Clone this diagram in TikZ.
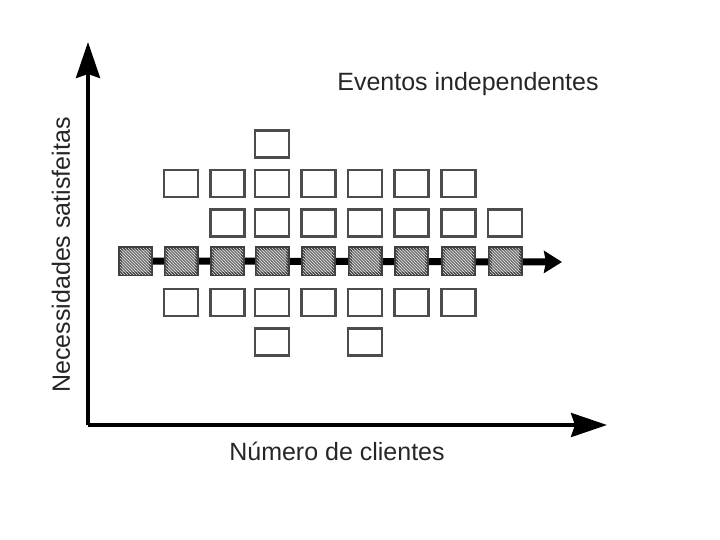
\documentclass[tikz,border=0pt]{standalone}
\usepackage{fontspec}
\setmainfont{Liberation Sans}
\usetikzlibrary{arrows.meta,patterns}
\begin{document}
\begin{tikzpicture}[x=1pt,y=-1pt,
  ebox/.style={draw=black!70,line width=2.6pt,fill=white,minimum width=34pt,minimum height=27pt,inner sep=0pt},
  hbox/.style={draw=black!75,line width=4pt,fill=black!55,postaction={pattern=north west lines,pattern color=white!90!black},minimum width=31pt,minimum height=26pt,inner sep=0pt},
  axis/.style={line width=3.6pt,-{Stealth[length=36pt,width=24pt,inset=4pt]}},
  lbl/.style={font=\fontsize{25}{28}\selectfont,text=black!85,inner sep=0pt}]
\useasboundingbox (0,0) rectangle (720,540);
% axes
\coordinate (O) at (88,425);
\coordinate (ytip) at (88,42);
\coordinate (xtip) at (607,425);
\draw[axis] (O) -- (ytip);
\draw[axis] (O) -- (xtip);
\node[lbl,rotate=90] (ylab) at (61,255) {Necessidades satisfeitas};
\node[lbl] (xlab) at (337,451) {Número de clientes};
\node[lbl] (title) at (468,84) {Eventos independentes};
% middle arrow
\coordinate (mtip) at (562,262);
\node[hbox] (h1) at (135.5,261) {};
\draw[line width=7pt,-{Stealth[length=18pt,width=22pt,inset=2pt]}] (h1.east) -- (mtip);
\foreach \i/\x in {2/181,3/227.5,4/272,5/318.5,6/365,7/411.5,8/458.5,9/505}
  \node[hbox] (h\i) at (\x,261) {};
% empty boxes
\node[ebox] (a1) at (272,144) {};
\foreach \i/\x in {1/181,2/227.5,3/272,4/318.5,5/365,6/411.5,7/458.5}
  \node[ebox] (b\i) at (\x,183.5) {};
\foreach \i/\x in {1/227.5,2/272,3/318.5,4/365,5/411.5,6/458.5,7/505}
  \node[ebox] (c\i) at (\x,223) {};
\foreach \i/\x in {1/181,2/227.5,3/272,4/318.5,5/365,6/411.5,7/458.5}
  \node[ebox] (d\i) at (\x,302.5) {};
\node[ebox] (e1) at (272,342) {};
\node[ebox] (e2) at (365,342) {};
\end{tikzpicture}
\end{document}
